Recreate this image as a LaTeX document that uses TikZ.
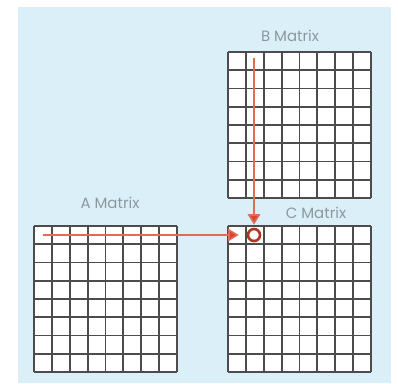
\documentclass[tikz,border=0pt]{standalone}
\usepackage{fontspec}
\setmainfont{Poppins}
\usetikzlibrary{positioning, calc, arrows.meta}
\definecolor{panelblue}{RGB}{219,239,248}
\definecolor{labelgrey}{RGB}{140,152,160}
\definecolor{hitred}{RGB}{214,72,46}
\tikzset{
    grid line/.style={line width=1.1pt, draw=black!70},
    mat label/.style={font=\fontsize{8.5}{10}\selectfont, text=labelgrey, inner sep=0pt},
    path arrow/.style={line width=0.9pt, draw=hitred!80, -{Triangle[length=0.21cm, width=0.25cm, fill=hitred]}},
    hit cell/.style={circle, draw=hitred!80!black, line width=1.5pt, fill=white, minimum size=0.24cm, inner sep=0pt},
}
\newcommand{\matgrid}[3]{
    \fill[white] (#2,#3) rectangle ++(143,146);
    \foreach \i in {0,...,8} {
        \draw[grid line] ({#2+\i*143/8},#3) -- ++(0,146);
        \draw[grid line] (#2,{#3+\i*146/8}) -- ++(143,0);
    }
    \coordinate (#1) at (#2,#3);
}

\begin{document}
\begin{tikzpicture}[x=0.02cm, y=-0.02cm]
    \useasboundingbox (0,0) rectangle (398,383);
    \fill[panelblue] (18,7) rectangle (391,383);
    % the three matrices
    \matgrid{A}{34}{226}
    \matgrid{B}{228}{52}
    \matgrid{C}{228}{226}
    \node[mat label] (a label) at (110,203) {A Matrix};
    \node[mat label] (b label) at (290,36) {B Matrix};
    \node[mat label] (c label) at (316,213) {C Matrix};
    % row of A and column of B meet in one cell of C
    \coordinate (a start) at (43,235);
    \coordinate (b start) at (254,58);
    \node[hit cell] (c hit) at (254,235) {};
    \draw[path arrow, shorten >=0.16cm] (a start) -- (c hit);
    \draw[path arrow, shorten >=0.06cm] (b start) -- (c hit);
\end{tikzpicture}
\end{document}
